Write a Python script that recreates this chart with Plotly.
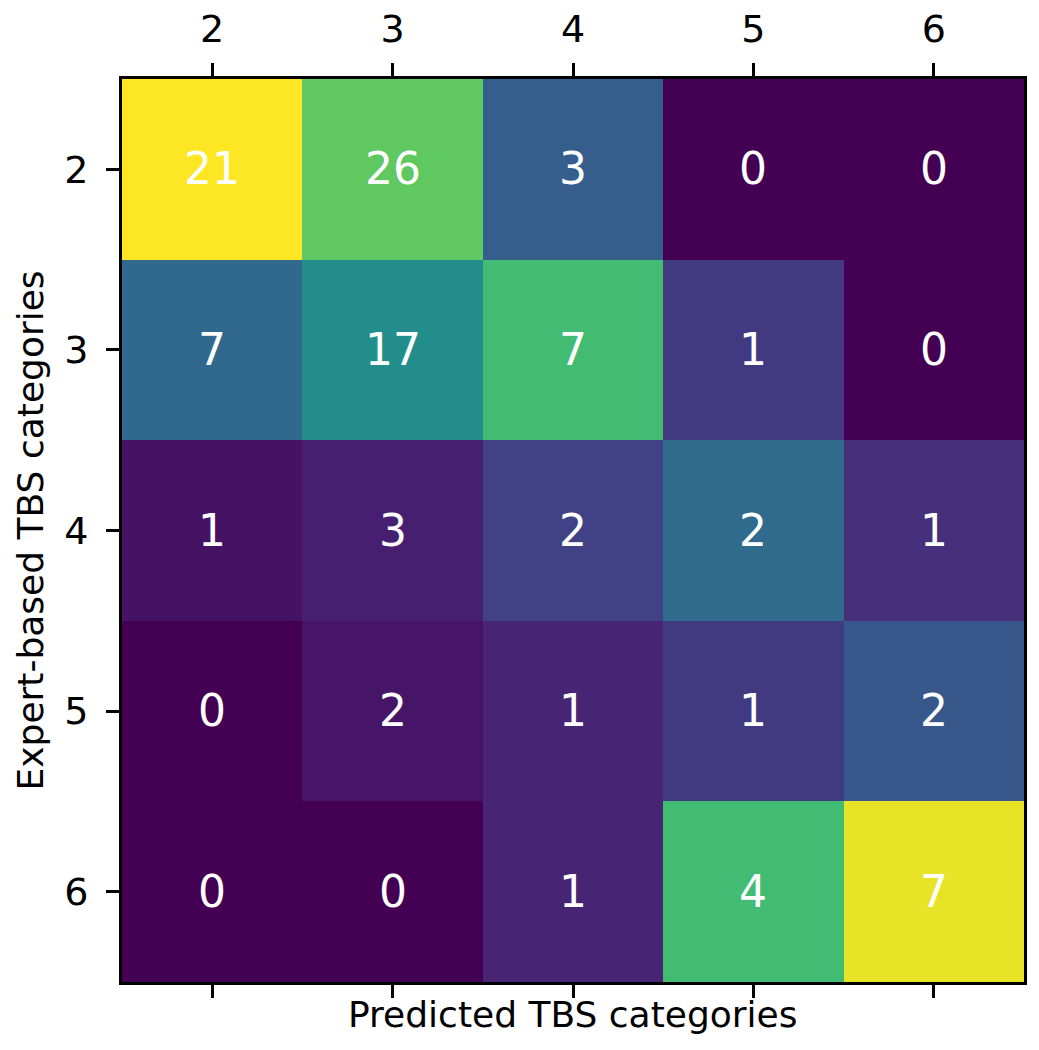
import numpy as np
import plotly.graph_objects as go

categories = [2, 3, 4, 5, 6]

# rows: expert-based category, columns: predicted category
counts = [
    [21, 26, 3, 0, 0],
    [7, 17, 7, 1, 0],
    [1, 3, 2, 2, 1],
    [0, 2, 1, 1, 2],
    [0, 0, 1, 4, 7],
]

FONT = "DejaVu Sans"

cm = np.array(counts, dtype=float)
# colour follows the share of each predicted column
col_share = cm / cm.sum(axis=0, keepdims=True)

fig = go.Figure()
fig.add_trace(
    go.Heatmap(
        x=categories,
        y=categories,
        z=col_share,
        text=counts,
        texttemplate="%{text}",
        textfont=dict(family=FONT, size=44, color="white"),
        colorscale="Viridis",
        zmin=0,
        zmax=col_share.max(),
        showscale=False,
    )
)

axis_common = dict(
    tickmode="array",
    tickvals=categories,
    ticktext=[str(c) for c in categories],
    ticks="outside",
    ticklen=13,
    tickwidth=2.5,
    tickcolor="black",
    showline=True,
    linecolor="black",
    linewidth=3,
    showgrid=False,
    zeroline=False,
    automargin=False,
    tickfont=dict(family=FONT, size=38, color="black"),
)

fig.update_xaxes(
    **axis_common,
    side="top",
    mirror="ticks",
    range=[1.5, 6.5],
    ticklabelstandoff=6,
)
fig.update_yaxes(
    **axis_common,
    mirror=True,
    range=[6.5, 1.5],
    ticklabelstandoff=10,
)

fig.add_annotation(
    text="Predicted TBS categories",
    x=0.5,
    y=0,
    xref="paper",
    yref="paper",
    xanchor="center",
    yanchor="top",
    yshift=-10,
    showarrow=False,
    font=dict(family=FONT, size=36, color="black"),
)
fig.add_annotation(
    text="Expert-based TBS categories",
    x=0,
    y=0.5,
    xref="paper",
    yref="paper",
    xanchor="center",
    yanchor="middle",
    xshift=-92,
    textangle=-90,
    showarrow=False,
    font=dict(family=FONT, size=36, color="black"),
)

fig.update_layout(
    width=1039,
    height=1050,
    margin=dict(l=114, r=23, t=71, b=76),
    plot_bgcolor="white",
    paper_bgcolor="white",
    font=dict(family=FONT),
)

fig.write_html("out.html")
